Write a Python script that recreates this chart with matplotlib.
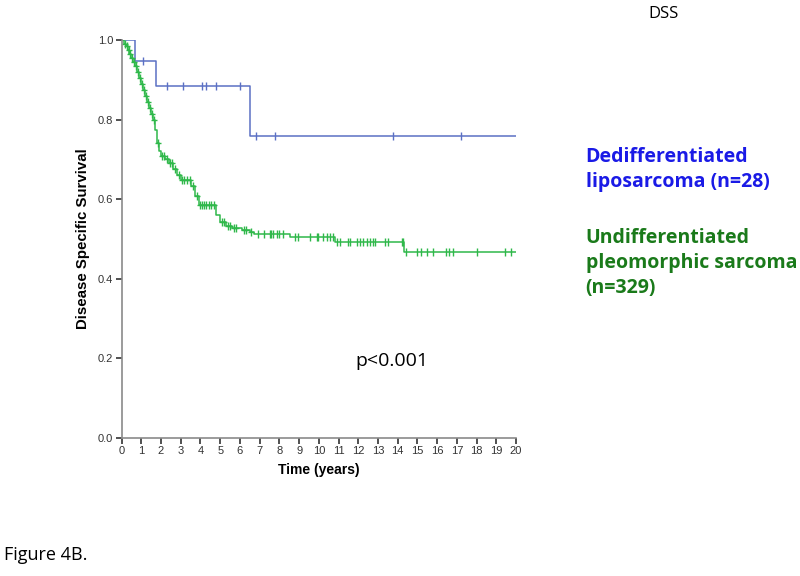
import numpy as np
import matplotlib
matplotlib.use('Agg')
import matplotlib.pyplot as plt

# Dedifferentiated liposarcoma: step times / survival after each step
ddl_times = [0, 0.67, 1.73, 6.5, 20]
ddl_surv = [1.0, 0.947, 0.884, 0.759, 0.759]
ddl_cens = [1.08, 2.28, 3.1, 4.1, 4.3, 4.78, 5.99, 6.82, 7.8, 13.75, 17.2]

# Undifferentiated pleomorphic sarcoma
ups_times = [0, 0.1, 0.2, 0.3, 0.4, 0.5, 0.6, 0.7, 0.8, 0.9, 1.0, 1.1, 1.2, 1.3,
             1.4, 1.5, 1.6, 1.7, 1.8, 1.9, 2.0, 2.2, 2.4, 2.6, 2.8, 3.0, 3.5,
             3.7, 3.9, 4.8, 5.0, 5.3, 5.6, 6.1, 6.5, 6.7, 8.53, 10.82, 14.3, 20]
ups_surv = [1.0, 0.99, 0.985, 0.975, 0.965, 0.955, 0.945, 0.935, 0.92, 0.905,
            0.89, 0.875, 0.86, 0.845, 0.83, 0.815, 0.80, 0.775, 0.74, 0.722,
            0.708, 0.700, 0.692, 0.675, 0.662, 0.648, 0.632, 0.607, 0.585, 0.56,
            0.543, 0.532, 0.527, 0.522, 0.518, 0.513, 0.505, 0.492, 0.468, 0.468]
ups_cens = [0.15, 0.25, 0.35, 0.45, 0.55, 0.65, 0.75, 0.85, 0.95, 1.05, 1.15,
            1.25, 1.35, 1.45, 1.55, 1.65, 1.85, 2.05, 2.15, 2.3, 2.45, 2.55,
            2.7, 2.9, 3.05, 3.15, 3.3, 3.45, 3.6, 3.8, 4.0, 4.1, 4.2, 4.3, 4.45,
            4.55, 4.7, 5.1, 5.2, 5.4, 5.5, 5.7, 5.8, 6.2, 6.3, 6.55,
            6.9, 7.2, 7.5, 7.6, 7.7, 7.9, 8.0, 8.2,
            8.8, 8.95, 9.55, 9.9, 9.95, 10.2, 10.4, 10.55, 10.7,
            10.9, 11.07, 11.48, 11.58, 11.92, 12.08, 12.25, 12.42, 12.6, 12.76,
            12.86, 13.35, 13.5, 14.2, 14.26,
            14.41, 15.0, 15.2, 15.47, 15.8, 16.43, 16.6, 16.78, 18.0, 19.44, 19.73]

blue = '#5b70c4'
green = '#2fb84a'


def surv_at(t, times, surv):
    i = np.searchsorted(times, t, side='right') - 1
    return np.array(surv)[i]


fig = plt.figure(figsize=(8, 5.76), dpi=100)
ax = fig.add_axes([0.152, 0.2396, 0.493, 0.691])

ax.step(ddl_times, ddl_surv, where='post', color=blue, lw=1.1)
ax.plot(ddl_cens, surv_at(ddl_cens, ddl_times, ddl_surv), ls='none',
        marker='|', ms=6, mew=1.0, color=blue)
ax.step(ups_times, ups_surv, where='post', color=green, lw=1.1)
ax.plot(ups_cens, surv_at(ups_cens, ups_times, ups_surv), ls='none',
        marker='|', ms=6, mew=1.0, color=green)
# early part of the curve is thick with censor crosses
ax.plot(ups_cens[:46], surv_at(ups_cens[:46], ups_times, ups_surv), ls='none',
        marker='_', ms=5, mew=1.0, color=green)

ax.set_xlim(0, 20)
ax.set_ylim(0, 1.0)
ax.set_xticks(range(0, 21))
ax.set_yticks([0.0, 0.2, 0.4, 0.6, 0.8, 1.0])
ax.set_yticklabels(['0.0', '0.2', '0.4', '0.6', '0.8', '1.0'])
for s in ['top', 'right']:
    ax.spines[s].set_visible(False)
for s in ['left', 'bottom']:
    ax.spines[s].set_color('#8a8a8a')
    ax.spines[s].set_linewidth(1.2)
ax.tick_params(colors='#333333', labelsize=8, length=4, width=1.2,
               direction='out', pad=2)
for lab in ax.get_xticklabels() + ax.get_yticklabels():
    lab.set_family('Liberation Sans')
    lab.set_color('#333333')
ax.set_xlabel('Time (years)', fontsize=10, fontweight='bold',
              family='Liberation Sans', labelpad=5)
ax.set_ylabel('Disease Specific Survival', fontsize=10.8, fontweight='bold',
              family='Liberation Sans', labelpad=6)

ax.text(0.685, 0.194, 'p<0.001', transform=ax.transAxes, fontsize=14,
        family='Open Sans', ha='center', va='center')

fig.text(0.81, 0.99, 'DSS', fontsize=12, family='Open Sans', ha='left', va='top')
fig.text(0.732, 0.745, 'Dedifferentiated\nliposarcoma (n=28)', fontsize=14,
         family='Open Sans', fontweight='bold', color='#1a1ae6',
         ha='left', va='top', linespacing=1.35)
fig.text(0.732, 0.605, 'Undifferentiated\npleomorphic sarcoma\n(n=329)',
         fontsize=14, family='Open Sans', fontweight='bold', color='#1a7a1a',
         ha='left', va='top', linespacing=1.35)
fig.text(0.005, 0.02, 'Figure 4B.', fontsize=13, family='Open Sans',
         ha='left', va='bottom')

fig.savefig('out.png', dpi=100)
